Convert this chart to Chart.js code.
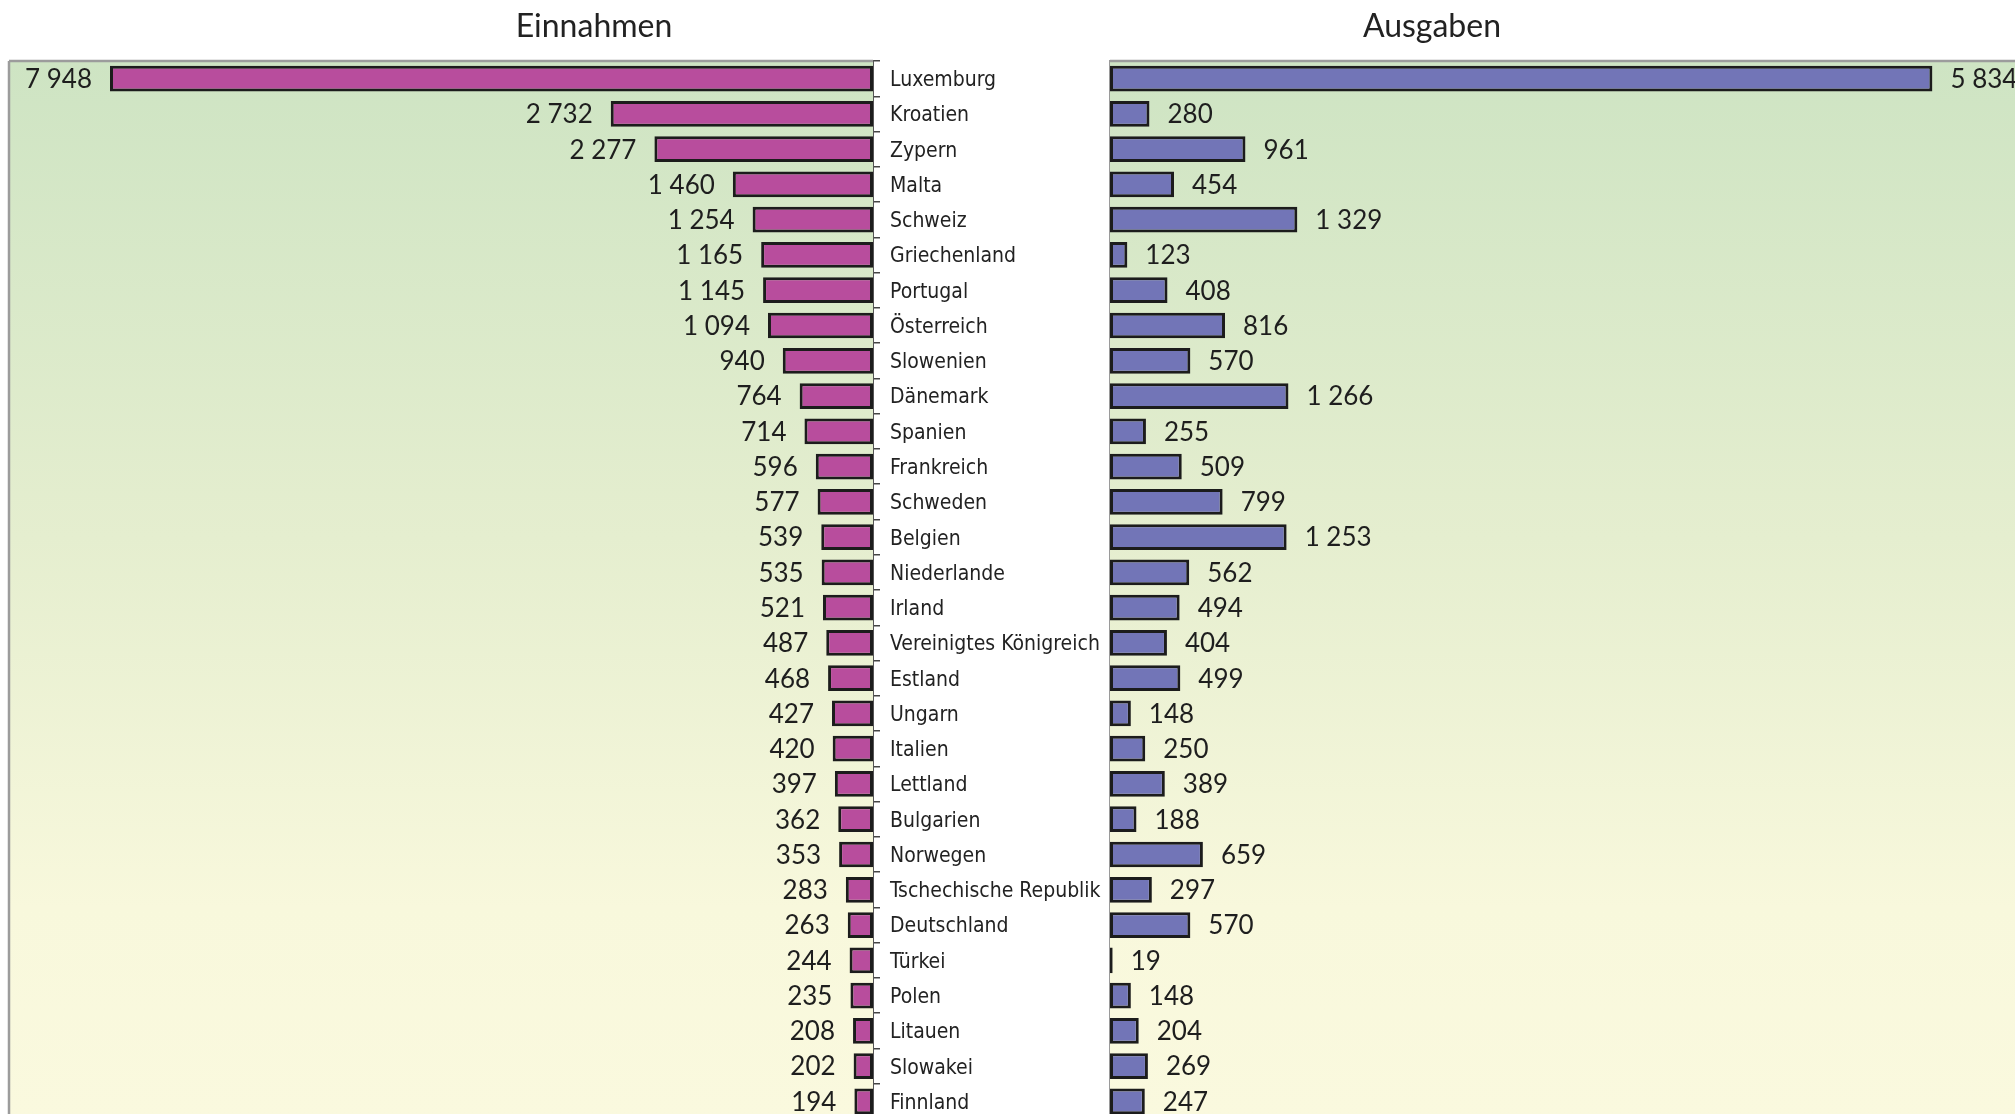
<!DOCTYPE html>
<html>
<head>
<meta charset="utf-8">
<script src="https://cdn.jsdelivr.net/npm/chart.js@4.4.1/dist/chart.umd.min.js"></script>
<style>
  html, body { margin: 0; padding: 0; background: #ffffff; overflow: hidden; width: 2015px; height: 1114px; }
  #wrap { position: relative; width: 2015px; height: 1114px; overflow: hidden; }
  #cLeft { position: absolute; left: 0; top: 0; }
  #cRight { position: absolute; left: 1100px; top: 0; }
</style>
</head>
<body>
<div id="wrap">
  <canvas id="cLeft" width="1110" height="1126"></canvas>
  <canvas id="cRight" width="915" height="1126"></canvas>
</div>
<script>
const countries = [
  "Luxemburg", "Kroatien", "Zypern", "Malta", "Schweiz", "Griechenland", "Portugal",
  "Österreich", "Slowenien", "Dänemark", "Spanien", "Frankreich", "Schweden", "Belgien",
  "Niederlande", "Irland", "Vereinigtes Königreich", "Estland", "Ungarn", "Italien",
  "Lettland", "Bulgarien", "Norwegen", "Tschechische Republik", "Deutschland", "Türkei",
  "Polen", "Litauen", "Slowakei", "Finnland"
];
const einnahmen = [
  7948, 2732, 2277, 1460, 1254, 1165, 1145, 1094, 940, 764, 714, 596, 577, 539,
  535, 521, 487, 468, 427, 420, 397, 362, 353, 283, 263, 244, 235, 208, 202, 194
];
const ausgaben = [
  5834, 280, 961, 454, 1329, 123, 408, 816, 570, 1266, 255, 509, 799, 1253,
  562, 494, 404, 499, 148, 250, 389, 188, 659, 297, 570, 19, 148, 204, 269, 247
];
const titleLeft = "Einnahmen";
const titleRight = "Ausgaben";

const LABEL_FONT = "'DejaVu Sans Condensed', 'DejaVu Sans', sans-serif";
const NUM_FONT = "Lato, 'Open Sans', sans-serif";

function fmt(v) {
  return String(v).replace(/\B(?=(\d{3})+(?!\d))/g, " ");
}

const framePlugin = {
  id: 'frame',
  beforeDatasetsDraw(chart, args, opts) {
    const a = chart.chartArea;
    const ctx = chart.ctx;
    ctx.save();
    const g = ctx.createLinearGradient(0, a.top, 0, a.bottom);
    g.addColorStop(0, '#cee4c3');
    g.addColorStop(0.45, '#e5eecf');
    g.addColorStop(0.8, '#f8f8dc');
    g.addColorStop(1, '#faf9de');
    ctx.fillStyle = g;
    ctx.fillRect(a.left, a.top, a.right - a.left, a.bottom - a.top);
    ctx.strokeStyle = '#9c9c9c';
    ctx.lineWidth = 2.5;
    ctx.beginPath();
    ctx.moveTo(a.left, a.top);
    ctx.lineTo(a.right, a.top);
    if (opts.leftEdge) {
      ctx.moveTo(a.left, a.top);
      ctx.lineTo(a.left, a.bottom + 5);
    }
    ctx.stroke();
    ctx.restore();
  },
  afterDraw(chart, args, opts) {
    const ctx = chart.ctx;
    ctx.save();
    ctx.font = "32px " + NUM_FONT;
    ctx.fillStyle = '#222222';
    ctx.textAlign = 'center';
    ctx.textBaseline = 'middle';
    ctx.fillText(opts.title, opts.titleX, 27);
    ctx.restore();
  }
};

const valuePlugin = {
  id: 'values',
  afterDatasetsDraw(chart, args, opts) {
    const ctx = chart.ctx;
    const meta = chart.getDatasetMeta(0);
    const data = chart.data.datasets[0].data;
    ctx.save();
    ctx.font = "26px " + NUM_FONT;
    ctx.fillStyle = '#1e1e1e';
    ctx.textBaseline = 'middle';
    meta.data.forEach((el, i) => {
      const t = fmt(data[i]);
      if (opts.side === 'left') {
        ctx.textAlign = 'right';
        ctx.fillText(t, el.x - 18, el.y + 1);
      } else {
        ctx.textAlign = 'left';
        ctx.fillText(t, el.x + 18, el.y + 1);
      }
    });
    ctx.restore();
  }
};

const commonBar = {
  borderColor: '#1c1c1c',
  borderWidth: 3,
  borderSkipped: false,
  barPercentage: 0.73,
  categoryPercentage: 1.0
};

function noPad(scale) {
  scale.paddingTop = 0;
  scale.paddingBottom = 0;
}

new Chart(document.getElementById('cLeft'), {
  type: 'bar',
  data: {
    labels: countries,
    datasets: [Object.assign({ data: einnahmen, backgroundColor: '#b84d9d' }, commonBar)]
  },
  options: {
    responsive: false,
    animation: false,
    devicePixelRatio: 1,
    indexAxis: 'y',
    layout: { padding: { left: 9, top: 61, right: 0, bottom: 7 } },
    plugins: {
      legend: { display: false },
      title: { display: false },
      tooltip: { enabled: false },
      frame: { leftEdge: true, title: titleLeft, titleX: 594 },
      values: { side: 'left' }
    },
    scales: {
      x: { type: 'linear', reverse: true, min: 0, max: 9000, display: false },
      y: {
        position: 'right',
        offset: true,
        grid: { display: true, drawOnChartArea: false, offset: true, tickLength: 7, color: '#444444', lineWidth: 1.5 },
        border: { display: true, color: '#555555', width: 2 },
        ticks: { color: '#222222', font: { family: LABEL_FONT, size: 21 }, padding: 10, labelOffset: 2 },
        afterFit(scale) { scale.width = 237; noPad(scale); }
      }
    }
  },
  plugins: [framePlugin, valuePlugin]
});

new Chart(document.getElementById('cRight'), {
  type: 'bar',
  data: {
    labels: countries,
    datasets: [Object.assign({ data: ausgaben, backgroundColor: '#7275b7' }, commonBar)]
  },
  options: {
    responsive: false,
    animation: false,
    devicePixelRatio: 1,
    indexAxis: 'y',
    layout: { padding: { left: 10, top: 61, right: 0, bottom: 7 } },
    plugins: {
      legend: { display: false },
      title: { display: false },
      tooltip: { enabled: false },
      frame: { leftEdge: false, title: titleRight, titleX: 332 },
      values: { side: 'right' }
    },
    scales: {
      x: { type: 'linear', min: 0, max: 6420, display: false },
      y: {
        position: 'left',
        offset: true,
        grid: { display: false, drawTicks: false },
        border: { display: true, color: '#9a9a9a', width: 2.5 },
        ticks: { display: false },
        afterFit(scale) { scale.width = 0; noPad(scale); }
      }
    }
  },
  plugins: [framePlugin, valuePlugin]
});
</script>
</body>
</html>
